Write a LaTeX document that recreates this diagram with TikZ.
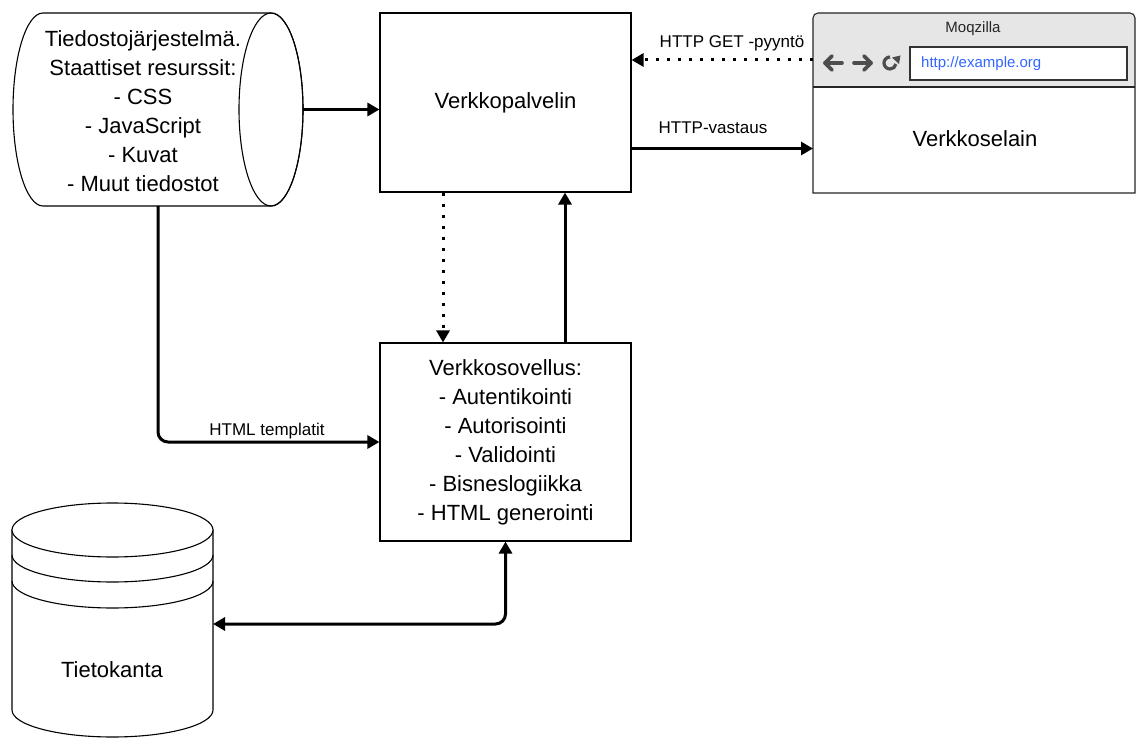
\documentclass[tikz,border=0pt]{standalone}
\usepackage{fontspec}
\setmainfont{Liberation Sans}
\usetikzlibrary{arrows.meta}
\definecolor{hdr}{HTML}{E6E6E6}
\definecolor{icongray}{HTML}{4D4D4D}
\definecolor{urlblue}{HTML}{3366FF}
\begin{document}
\begin{tikzpicture}[x=1pt,y=-1pt,
  shapeline/.style={draw=black, line width=1.1pt},
  box/.style={shapeline, fill=white, inner sep=0pt},
  big/.style={font=\fontsize{22}{29}\selectfont, align=center},
  small/.style={font=\fontsize{17}{20}\selectfont},
  tiny/.style={font=\fontsize{15}{18}\selectfont},
  conn/.style={line width=3pt, -{Triangle[length=12pt,width=13pt]}},
  dots/.style={conn, dash pattern=on 3pt off 8pt},
  icon/.style={draw=icongray, line width=3.6pt, line cap=round, line join=round},
  ghost/.style={inner sep=0pt, outer sep=0pt}
]
\useasboundingbox (0,0) rectangle (1136,738);
\fill[white] (0,0) rectangle (1136,738);

% ---- file system cylinder (horizontal)
\node[ghost, minimum width=290pt, minimum height=193pt] (fs) at (158,109.5) {};
\path[shapeline, fill=white] (43,13) -- (271,13)
  arc[start angle=90, end angle=-90, x radius=32pt, y radius=96.5pt]
  -- (43,206)
  arc[start angle=270, end angle=90, x radius=30pt, y radius=96.5pt] -- cycle;
\draw[shapeline] (271,109.5) ellipse[x radius=32pt, y radius=96.5pt];
\node[big] (fstext) at (143,111.5) {Tiedostojärjestelmä.\\Staattiset resurssit:\\- CSS\\- JavaScript\\- Kuvat\\- Muut tiedostot};

% ---- web server
\node[box, big, minimum width=251pt, minimum height=179pt] (web) at (505.5,102.5) {Verkkopalvelin};

% ---- web application
\node[box, big, minimum width=251pt, minimum height=198pt] (app) at (505.5,442) {Verkkosovellus:\\- Autentikointi\\- Autorisointi\\- Validointi\\- Bisneslogiikka\\- HTML generointi};

% ---- browser
\node[ghost, minimum width=322pt, minimum height=180pt] (br) at (974,103) {};
\fill[hdr, rounded corners=5pt] (813,87) -- (813,13) -- (1135,13) -- (1135,87);
\draw[shapeline, draw=black!85, rounded corners=5pt] (813,100) -- (813,13) -- (1135,13) -- (1135,100) [sharp corners] -- (1135,193) -- (813,193) -- cycle;
\draw[shapeline, draw=black!85] (813,87) -- (1135,87);
\node[tiny, text=black!85] (title) at (973,29) {Moqzilla};
\node[draw=black!80, line width=1.1pt, fill=white, minimum width=217pt, minimum height=33pt, inner sep=0pt] (url) at (1018.5,63.5) {};
\node[tiny, text=urlblue, anchor=west, inner sep=0pt] (urltext) at (921,64) {http://example.org};
\draw[icon] (842,63) -- (825,63);
\draw[icon] (832,56) -- (825,63) -- (832,70);
\draw[icon] (854,63) -- (871,63);
\draw[icon] (864,56) -- (871,63) -- (864,70);
\draw[draw=icongray, line width=3.2pt] (890,57) arc[start angle=90, end angle=350, radius=6pt];
\fill[icongray] (892,57.5) -- (900.5,55.5) -- (899,64) -- cycle;
\node[big] (brtext) at (975,139) {Verkkoselain};

% ---- database
\node[ghost, minimum width=201pt, minimum height=234pt] (db) at (112.5,620) {};
\path[shapeline, fill=white] (12,530) -- (12,710)
  arc[start angle=180, end angle=360, x radius=100.5pt, y radius=27pt]
  -- (213,530) -- cycle;
\draw[shapeline, fill=white] (112.5,530) ellipse[x radius=100.5pt, y radius=27pt];
\draw[shapeline] (12,555) arc[start angle=180, end angle=360, x radius=100.5pt, y radius=27pt];
\draw[shapeline] (12,581) arc[start angle=180, end angle=360, x radius=100.5pt, y radius=27pt];
\node[big] (dbtext) at (112,670) {Tietokanta};

% ---- connectors
\draw[conn] (fs.east) -- (fs.east -| web.west);
\coordinate (get) at ([yshift=43pt]br.west);
\draw[dots] (get) -- (get -| web.east);
\node[small] (getlbl) at (732,43) {HTTP GET -pyyntö};
\coordinate (resp) at ([yshift=-46pt]web.east);
\draw[conn] (resp) -- (resp -| br.west);
\node[small] (resplbl) at (713,128) {HTTP-vastaus};
\coordinate (down) at ([xshift=-62.5pt]web.south);
\draw[dots] (down) -- (down |- app.north);
\coordinate (up) at ([xshift=59.5pt]app.north);
\draw[conn] (up) -- (up |- web.south);
\draw[conn, rounded corners=10pt] (fs.south) |- (app.west);
\node[small] (tpllbl) at (267,431) {HTML templatit};
\draw[line width=3pt, {Triangle[length=12pt,width=13pt]}-{Triangle[length=12pt,width=13pt]}, rounded corners=10pt] ([yshift=-4pt]db.east) -| (app.south);
\end{tikzpicture}
\end{document}
